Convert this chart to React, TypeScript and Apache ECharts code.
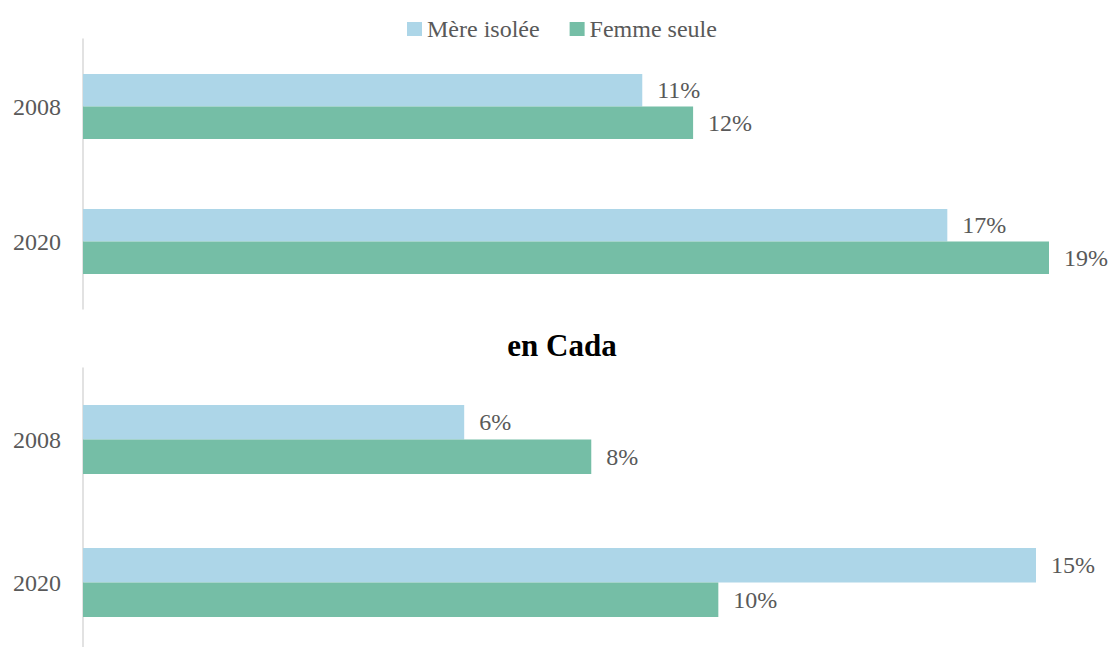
import React, { useEffect, useRef } from "react";
import * as echarts from "echarts";

const years = ["2008", "2020"];
const seriesNames = ["Mère isolée", "Femme seule"];
const topMere = [11, 17];
const topFemme = [12, 19];
const bottomMere = [6, 15];
const bottomFemme = [8, 10];
const bottomTitle = "en Cada";

const FONT = "'Liberation Serif', 'DejaVu Serif', serif";
const TEXT = "#595959";
const BLUE = "#ADD6E8";
const GREEN = "#75BEA6";

export default function App() {
  const ref = useRef<HTMLDivElement>(null);
  useEffect(() => {
    if (!ref.current) return;
    const chart = echarts.init(ref.current, undefined, { renderer: "svg" });
    const label = {
      show: true,
      position: "right",
      distance: 15,
      formatter: (p: any) => p.value + "%",
      color: TEXT,
      fontFamily: FONT,
      fontSize: 24,
    };
    const mk = (name: string, data: number[], idx: number, color: string, bw: number) => ({
      name,
      type: "bar",
      xAxisIndex: idx,
      yAxisIndex: idx,
      data,
      barWidth: bw,
      barGap: "0%",
      itemStyle: { color },
      label,
    });
    const yAx = (idx: number) => ({
      type: "category",
      gridIndex: idx,
      data: years,
      inverse: true,
      axisLine: { show: true, lineStyle: { color: "#D9D9D9", width: 1.5 } },
      axisTick: { show: false },
      axisLabel: { color: TEXT, fontFamily: FONT, fontSize: 24, margin: 22 },
    });
    const xAx = (idx: number) => ({
      type: "value",
      gridIndex: idx,
      min: 0,
      max: "dataMax",
      show: false,
      splitLine: { show: false },
    });
    chart.setOption({
      animation: false,
      backgroundColor: "#ffffff",
      legend: {
        data: seriesNames,
        left: 402,
        top: 12,
        itemWidth: 15,
        itemHeight: 14,
        itemGap: 30,
        icon: "rect",
        textStyle: { color: TEXT, fontFamily: FONT, fontSize: 24 },
      },
      graphic: [
        {
          type: "text",
          x: 562,
          y: 345,
          style: {
            text: bottomTitle,
            fontFamily: FONT,
            fontSize: 31,
            fontWeight: "bold",
            fill: "#000000",
            textAlign: "center",
            textVerticalAlign: "middle",
          },
        },
      ],
      grid: [
        { left: 83, width: 966, top: 39, height: 270 },
        { left: 83, width: 953, top: 368, height: 286 },
      ],
      xAxis: [xAx(0), xAx(1)],
      yAxis: [yAx(0), yAx(1)],
      series: [
        mk(seriesNames[0], topMere, 0, BLUE, 32.5),
        mk(seriesNames[1], topFemme, 0, GREEN, 32.5),
        mk(seriesNames[0], bottomMere, 1, BLUE, 34.5),
        mk(seriesNames[1], bottomFemme, 1, GREEN, 34.5),
      ],
    });
    return () => chart.dispose();
  }, []);
  return (
    <div
      style={{
        position: "fixed",
        left: 0,
        top: 0,
        width: 1109,
        height: 647,
        overflow: "hidden",
        background: "#ffffff",
      }}
    >
      <div ref={ref} style={{ width: 1109, height: 670 }} />
    </div>
  );
}
